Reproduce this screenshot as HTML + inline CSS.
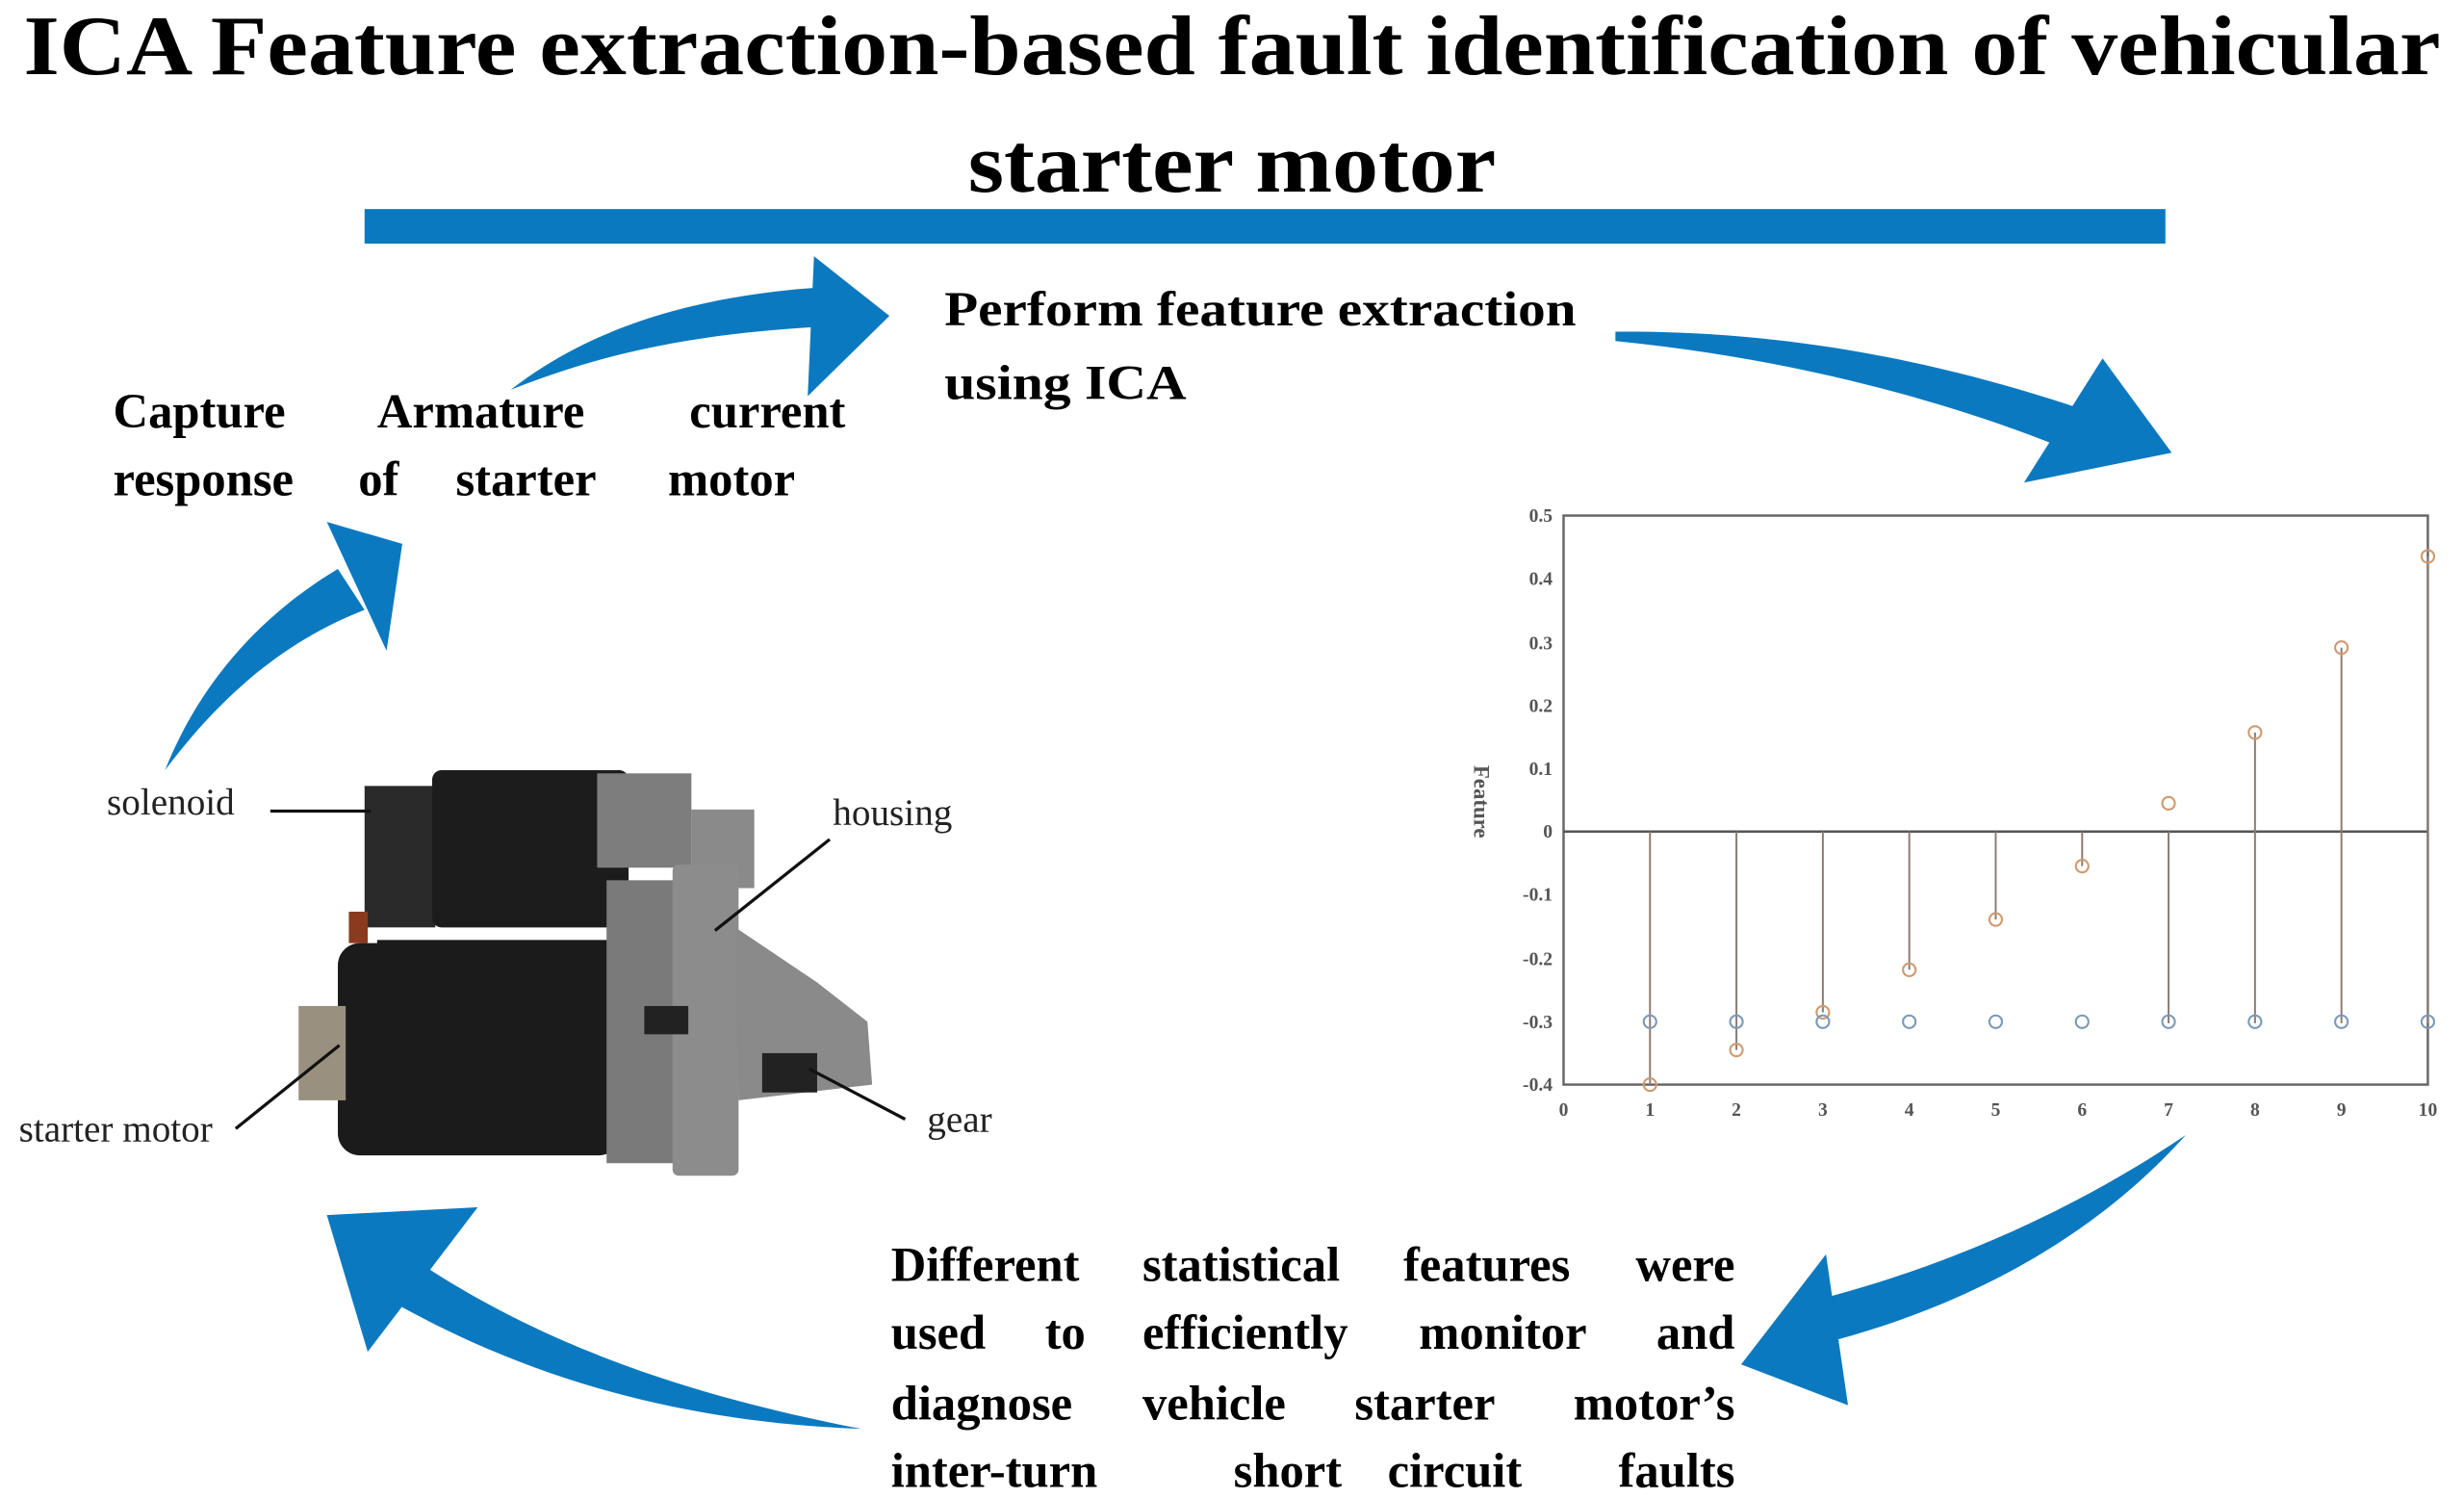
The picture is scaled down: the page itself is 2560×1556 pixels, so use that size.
<!DOCTYPE html>
<html><head><meta charset="utf-8"><style>
html,body{margin:0;padding:0;background:#fff;width:2560px;height:1556px;overflow:hidden}
svg{display:block}
text{font-family:"Liberation Serif",serif}
</style></head><body>
<svg width="2560" height="1556" viewBox="0 0 1568 953" preserveAspectRatio="none" xmlns="http://www.w3.org/2000/svg">
<!-- title -->
<text x="784" y="47" text-anchor="middle" font-size="54" font-weight="bold" textLength="1538" lengthAdjust="spacingAndGlyphs">ICA Feature extraction-based fault identification of vehicular</text>
<text x="784" y="122" text-anchor="middle" font-size="54" font-weight="bold" textLength="336" lengthAdjust="spacingAndGlyphs">starter motor</text>
<rect x="232" y="133" width="1146" height="22" fill="#0b79c0"/>

<!-- labels -->
<g font-size="31" font-weight="bold">
<text x="601" y="207" textLength="402" lengthAdjust="spacingAndGlyphs">Perform feature extraction</text>
<text x="601" y="254" textLength="154" lengthAdjust="spacingAndGlyphs">using ICA</text>
<text x="72" y="272">Capture</text><text x="240" y="272">Armature</text><text x="538" y="272" text-anchor="end">current</text>
<text x="72" y="315">response</text><text x="228" y="315">of</text><text x="290" y="315">starter</text><text x="506" y="315" text-anchor="end">motor</text>
<text x="567" y="815">Different</text><text x="727" y="815">statistical</text><text x="893" y="815">features</text><text x="1104" y="815" text-anchor="end">were</text>
<text x="567" y="858">used</text><text x="665" y="858">to</text><text x="727" y="858">efficiently</text><text x="903" y="858">monitor</text><text x="1104" y="858" text-anchor="end">and</text>
<text x="567" y="903">diagnose</text><text x="727" y="903">vehicle</text><text x="862" y="903">starter</text><text x="1104" y="903" text-anchor="end">motor’s</text>
<text x="567" y="946">inter-turn</text><text x="785" y="946">short</text><text x="883" y="946">circuit</text><text x="1104" y="946" text-anchor="end">faults</text>
</g>

<!-- arrows -->
<g fill="#0b79c0">
<path d="M325,248 C380,205 450,188 520,183 L520,208 C450,212 390,222 325,248 Z"/>
<polygon points="518,163 566,201 514,252"/>
<path d="M1028,211 C1150,210 1250,235 1330,262 L1318,287 C1240,255 1140,228 1028,217 Z"/>
<polygon points="1338,228 1382,288 1288,307"/>
<path d="M105,490 C125,440 160,395 215,362 L232,388 C175,410 135,450 105,490 Z"/>
<polygon points="208,332 256,346 246,414"/>
<path d="M1391,722 C1330,790 1250,830 1170,852 L1160,826 C1240,805 1320,770 1391,722 Z"/>
<polygon points="1162,798 1108,868 1176,894"/>
<path d="M548,909 C450,890 350,860 262,800 L246,826 C340,880 440,905 548,909 Z"/>
<polygon points="208,773 304,768 234,860"/>
</g>

<!-- motor -->
<g>
<rect x="232" y="500" width="45" height="90" fill="#2a2a2a"/>
<rect x="275" y="490" width="125" height="100" rx="6" fill="#1c1c1c"/>
<rect x="380" y="492" width="60" height="60" fill="#7d7d7d"/>
<rect x="440" y="515" width="40" height="50" fill="#8a8a8a"/>
<rect x="240" y="598" width="150" height="20" fill="#1a1a1a"/>
<rect x="215" y="600" width="180" height="135" rx="14" fill="#1b1b1b"/>
<rect x="190" y="640" width="30" height="60" fill="#9a9080"/>
<rect x="386" y="560" width="45" height="180" fill="#7a7a7a"/>
<rect x="428" y="550" width="42" height="198" rx="4" fill="#8c8c8c"/>
<path d="M468,590 L520,625 L552,650 L555,690 L470,700 Z" fill="#8a8a8a"/>
<rect x="485" y="670" width="35" height="25" fill="#222"/>
<rect x="410" y="640" width="28" height="18" fill="#222"/>
<rect x="222" y="580" width="12" height="20" fill="#8a3a1e"/>
</g>
<g stroke="#111" stroke-width="2" fill="none">
<line x1="172" y1="516" x2="236" y2="516"/>
<line x1="528" y1="534" x2="455" y2="592"/>
<line x1="150" y1="718" x2="216" y2="665"/>
<line x1="576" y1="712" x2="515" y2="680"/>
</g>
<g font-size="24" fill="#222">
<text x="68" y="518">solenoid</text>
<text x="530" y="525">housing</text>
<text x="12" y="726">starter motor</text>
<text x="590" y="720">gear</text>
</g>

<!-- plot -->
<g font-family="Liberation Sans" font-size="12" font-weight="bold" fill="#555">
<rect x="995" y="328" width="550" height="362" fill="none" stroke="#666" stroke-width="1.5"/>
<line x1="995" y1="529" x2="1545" y2="529" stroke="#555" stroke-width="1.5"/>
<g text-anchor="end">
<text x="988" y="332">0.5</text><text x="988" y="372">0.4</text><text x="988" y="413">0.3</text>
<text x="988" y="453">0.2</text><text x="988" y="493">0.1</text><text x="988" y="533">0</text>
<text x="988" y="573">-0.1</text><text x="988" y="614">-0.2</text><text x="988" y="654">-0.3</text>
<text x="988" y="694">-0.4</text>
</g>
<g text-anchor="middle">
<text x="995" y="710">0</text><text x="1050" y="710">1</text><text x="1105" y="710">2</text>
<text x="1160" y="710">3</text><text x="1215" y="710">4</text><text x="1270" y="710">5</text>
<text x="1325" y="710">6</text><text x="1380" y="710">7</text><text x="1435" y="710">8</text>
<text x="1490" y="710">9</text><text x="1545" y="710">10</text>
</g>
<text x="0" y="0" transform="translate(938,510) rotate(90)" font-size="14" text-anchor="middle">Feature</text>
<g stroke="#8a7a72" stroke-width="1.2">
<line x1="1050" y1="529" x2="1050" y2="690"/><line x1="1105" y1="529" x2="1105" y2="668"/>
<line x1="1160" y1="529" x2="1160" y2="644"/><line x1="1215" y1="529" x2="1215" y2="617"/>
<line x1="1270" y1="529" x2="1270" y2="585"/><line x1="1325" y1="529" x2="1325" y2="551"/>
<line x1="1380" y1="529" x2="1380" y2="651"/><line x1="1435" y1="466" x2="1435" y2="651"/>
<line x1="1490" y1="412" x2="1490" y2="651"/><line x1="1545" y1="354" x2="1545" y2="651"/>
</g>
<g fill="none" stroke="#d09a70" stroke-width="1.3">
<circle cx="1050" cy="690" r="4"/><circle cx="1105" cy="668" r="4"/><circle cx="1160" cy="644" r="4"/>
<circle cx="1215" cy="617" r="4"/><circle cx="1270" cy="585" r="4"/><circle cx="1325" cy="551" r="4"/>
<circle cx="1380" cy="511" r="4"/><circle cx="1435" cy="466" r="4"/><circle cx="1490" cy="412" r="4"/>
<circle cx="1545" cy="354" r="4"/>
</g>
<g fill="none" stroke="#7a9ab8" stroke-width="1.3">
<circle cx="1050" cy="650" r="4"/><circle cx="1105" cy="650" r="4"/><circle cx="1160" cy="650" r="4"/>
<circle cx="1215" cy="650" r="4"/><circle cx="1270" cy="650" r="4"/><circle cx="1325" cy="650" r="4"/>
<circle cx="1380" cy="650" r="4"/><circle cx="1435" cy="650" r="4"/><circle cx="1490" cy="650" r="4"/>
<circle cx="1545" cy="650" r="4"/>
</g>
</g>
</svg>
</body></html>
